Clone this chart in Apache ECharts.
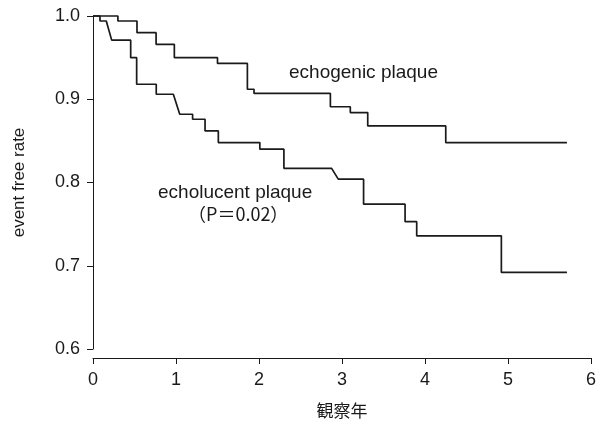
<!DOCTYPE html>
<html>
<head>
<meta charset="utf-8">
<script src="https://cdn.jsdelivr.net/npm/echarts@6/dist/echarts.min.js"></script>
<style>
html,body{margin:0;padding:0;background:#fff;}
#chart{width:607px;height:434px;}
</style>
</head>
<body>
<div id="chart"></div>
<script>
// Polyline vertices
const echogenicT = [0, 0.30, 0.30, 0.53, 0.53, 0.76, 0.76, 0.98, 0.98, 1.50, 1.50, 1.86, 1.86, 1.94, 1.94, 2.86, 2.86, 3.10, 3.10, 3.31, 3.31, 4.25, 4.25, 5.71];
const echogenicS = [1.0, 1.0, 0.994, 0.994, 0.980, 0.980, 0.966, 0.966, 0.950, 0.950, 0.943, 0.943, 0.912, 0.912, 0.907, 0.907, 0.891, 0.891, 0.884, 0.884, 0.868, 0.868, 0.848, 0.848];

const echolucentT = [0, 0.084, 0.084, 0.16, 0.225, 0.454, 0.454, 0.526, 0.526, 0.762, 0.762, 0.968, 1.045, 1.20, 1.20, 1.35, 1.35, 1.51, 1.51, 2.01, 2.01, 2.30, 2.30, 2.875, 2.955, 3.26, 3.26, 3.76, 3.76, 3.90, 3.90, 4.92, 4.92, 5.71];
const echolucentS = [1.0, 1.0, 0.994, 0.994, 0.971, 0.971, 0.950, 0.950, 0.918, 0.918, 0.906, 0.906, 0.882, 0.882, 0.876, 0.876, 0.862, 0.862, 0.848, 0.848, 0.840, 0.840, 0.817, 0.817, 0.804, 0.804, 0.774, 0.774, 0.753, 0.753, 0.736, 0.736, 0.692, 0.692];

const xTicks = [0, 1, 2, 3, 4, 5, 6];
const yTicks = [0.6, 0.7, 0.8, 0.9, 1.0];
const xTitle = '観察年';
const yTitle = 'event free rate';
const labelEchogenic = 'echogenic plaque';
const labelEcholucent = 'echolucent plaque';
const labelP = '（P＝0.02）';

const toPairs = (t, s) => t.map((v, i) => [v, s[i]]);
const font = '"Liberation Sans", Arial, Helvetica, sans-serif';
const ink = '#1a1a1a';

const chart = echarts.init(document.getElementById('chart'), null, {renderer: 'canvas'});
chart.setOption({
  animation: false,
  backgroundColor: '#fff',
  grid: {left: 93, right: 16, top: 16, bottom: 85, containLabel: false},
  xAxis: {
    type: 'value', min: xTicks[0], max: xTicks[xTicks.length - 1], interval: 1,
    offset: 9,
    axisLine: {show: true, lineStyle: {color: ink, width: 1}},
    axisTick: {show: true, inside: false, length: 6, lineStyle: {color: ink, width: 1}},
    axisLabel: {color: ink, fontSize: 18, fontFamily: font, margin: 13},
    splitLine: {show: false},
    name: xTitle, nameLocation: 'middle', nameGap: 44,
    nameTextStyle: {color: ink, fontSize: 17, fontFamily: '"Noto Sans CJK JP", sans-serif'}
  },
  yAxis: {
    type: 'value', min: yTicks[0], max: yTicks[yTicks.length - 1], interval: 0.1,
    axisLine: {show: true, lineStyle: {color: ink, width: 1}},
    axisTick: {show: true, inside: false, length: 6, lineStyle: {color: ink, width: 1}},
    axisLabel: {color: ink, fontSize: 18, fontFamily: font, margin: 13,
      formatter: v => v.toFixed(1)},
    splitLine: {show: false},
    name: yTitle, nameLocation: 'middle', nameGap: 65, nameRotate: 90,
    nameTextStyle: {color: ink, fontSize: 17, fontFamily: font}
  },
  series: [
    {type: 'line', name: labelEchogenic, data: toPairs(echogenicT, echogenicS),
      symbol: 'none', lineStyle: {color: ink, width: 1.7}, clip: false},
    {type: 'line', name: labelEcholucent, data: toPairs(echolucentT, echolucentS),
      symbol: 'none', lineStyle: {color: ink, width: 1.7}, clip: false}
  ],
  graphic: [
    {type: 'text', left: 289, top: 63, style: {text: labelEchogenic, fill: ink, font: '19px ' + font}},
    {type: 'text', left: 158, top: 183, style: {text: labelEcholucent, fill: ink, font: '19px ' + font}},
    {type: 'text', left: 188, top: 205, style: {text: labelP, fill: ink, font: '18px "Noto Sans CJK JP", ' + font}}
  ]
});
</script>
</body>
</html>
